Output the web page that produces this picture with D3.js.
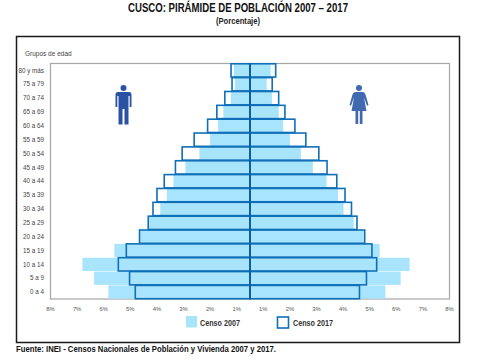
<!DOCTYPE html>
<html>
<head>
<meta charset="utf-8">
<script src="https://cdn.jsdelivr.net/npm/d3@7"></script>
<style>
body { margin: 0; background: #fff; }
text { font-family: "Liberation Sans", Arial, sans-serif; }
.narrow { font-weight: bold; }
</style>
</head>
<body>
<div id="vis"></div>
<script>
var groups = ["80 y más","75 a 79","70 a 74","65 a 69","60 a 64","55 a 59","50 a 54","45 a 49","40 a 44","35 a 39","30 a 34","25 a 29","20 a 24","15 a 19","10 a 14","5 a 9","0 a 4"];
var men2007 = [0.64,0.60,0.77,1.07,1.28,1.60,2.03,2.59,3.07,3.33,3.60,4.04,4.40,5.44,6.72,6.25,5.68];
var women2007 = [0.83,0.67,0.88,1.15,1.33,1.60,2.04,2.52,3.07,3.53,3.75,4.16,4.56,5.20,6.40,6.04,5.43];
var men2017 = [0.76,0.72,1.01,1.33,1.70,2.24,2.72,2.99,3.44,3.73,3.89,4.08,4.43,4.96,5.28,4.83,4.60];
var women2017 = [1.03,0.89,1.15,1.40,1.80,2.24,2.76,3.09,3.48,3.81,4.07,4.29,4.60,4.89,5.08,4.67,4.39];
var tickLabels = ["8%","7%","6%","5%","4%","3%","2%","1%","1%","2%","3%","4%","5%","6%","7%","8%"];

var width = 478, height = 358;
var svg = d3.select("#vis").append("svg").attr("width", width).attr("height", height);

// bars use a true percentage scale, the tick labels are just spread evenly like the original
var x = d3.scaleLinear().domain([-8, 8]).range([50.5, 449.5]);
var y = d3.scaleBand().domain(groups).range([63.5, 299]).paddingInner(0.04).paddingOuter(0.02);
var xLabels = d3.scalePoint().domain(d3.range(tickLabels.length)).range([50.5, 449.5]);

// no narrow font installed, so squeeze the bold text to the original widths
function narrowText(px, py, size, fill, len, anchor, str) {
    return svg.append("text").attr("class", "narrow")
        .attr("x", px).attr("y", py)
        .attr("text-anchor", anchor)
        .attr("font-size", size).attr("fill", fill)
        .attr("textLength", len).attr("lengthAdjust", "spacingAndGlyphs")
        .text(str);
}

// titles
narrowText(238, 12, 12.5, "#111", 220, "middle", "CUSCO: PIRÁMIDE DE POBLACIÓN 2007 – 2017");
narrowText(238, 23.5, 9.5, "#222", 44, "middle", "(Porcentaje)");

// outer frame
svg.append("rect").attr("x", 16.5).attr("y", 36.5).attr("width", 443).attr("height", 306)
    .attr("fill", "none").attr("stroke", "#1a1a1a").attr("stroke-width", 1.5);

// plot frame
svg.append("rect").attr("x", 50.5).attr("y", 63.5).attr("width", 399).attr("height", 235.5)
    .attr("fill", "none").attr("stroke", "#a6a6a6").attr("stroke-width", 1.2);

svg.append("text").attr("x", 25).attr("y", 56).attr("font-size", 6.5).attr("fill", "#444")
    .text("Grupos de edad");

svg.selectAll("text.group").data(groups).enter().append("text")
    .attr("class", "group")
    .attr("x", 44).attr("text-anchor", "end")
    .attr("y", function(d){ return y(d) + y.bandwidth() / 2 + 2.2; })
    .attr("font-size", 6.3).attr("fill", "#444")
    .text(function(d){ return d; });

function drawBars(values, side, cls, fill, stroke, sw) {
    svg.selectAll("rect." + cls).data(values).enter().append("rect")
        .attr("class", cls)
        .attr("x", function(d){ return side < 0 ? x(-d) : x(0); })
        .attr("y", function(d, i){ return y(groups[i]); })
        .attr("width", function(d){ return x(d) - x(0); })
        .attr("height", y.bandwidth())
        .attr("fill", fill)
        .attr("stroke", stroke)
        .attr("stroke-width", sw);
}
drawBars(men2007, -1, "m07", "#a9e4fd", "none", 0);
drawBars(women2007, 1, "w07", "#a9e4fd", "none", 0);
drawBars(men2017, -1, "m17", "none", "#0f6fb8", 1.6);
drawBars(women2017, 1, "w17", "none", "#0f6fb8", 1.6);

// center line
svg.append("line").attr("x1", x(0)).attr("x2", x(0)).attr("y1", 63.5).attr("y2", 299)
    .attr("stroke", "#0a5a9c").attr("stroke-width", 1.6);

svg.selectAll("text.tick").data(tickLabels).enter().append("text")
    .attr("class", "tick")
    .attr("x", function(d, i){ return xLabels(i); })
    .attr("y", 310.5).attr("text-anchor", "middle")
    .attr("font-size", 5.8).attr("fill", "#555")
    .text(function(d){ return d; });

// legend
svg.append("rect").attr("x", 186).attr("y", 316).attr("width", 11).attr("height", 11.5).attr("fill", "#a9e4fd");
narrowText(200, 326, 8.5, "#333", 40, "start", "Censo 2007");
svg.append("rect").attr("x", 277.5).attr("y", 317).attr("width", 11).attr("height", 11)
    .attr("fill", "#fff").attr("stroke", "#0f6fb8").attr("stroke-width", 1.6);
narrowText(293, 326, 8.5, "#333", 40, "start", "Censo 2017");

narrowText(16, 352, 9.5, "#111", 260, "start", "Fuente: INEI - Censos Nacionales de Población y Vivienda 2007 y 2017.");

// man icon
var man = svg.append("g").attr("transform", "translate(123.5,85)").attr("fill", "#2a52a3");
man.append("circle").attr("cy", 3).attr("r", 3);
man.append("path").attr("d", "M-6,7 H6 Q8,7 8,9.5 V22 H6.2 V11 H5 V39.5 H1 V24 H-1 V39.5 H-5 V11 H-6.2 V22 H-8 V9.5 Q-8,7 -6,7 Z");

// woman icon
var woman = svg.append("g").attr("transform", "translate(359,85)").attr("fill", "#4169b0");
woman.append("circle").attr("cy", 3).attr("r", 3);
woman.append("path").attr("d", "M-4,7 H4 Q5.5,7 6.5,9.5 L9.5,20 L8,20.7 L5,12.5 L7.5,26 H3.5 V39 H0.8 V26 H-0.8 V39 H-3.5 V26 H-7.5 L-5,12.5 L-8,20.7 L-9.5,20 L-6.5,9.5 Q-5.5,7 -4,7 Z");
</script>
</body>
</html>
